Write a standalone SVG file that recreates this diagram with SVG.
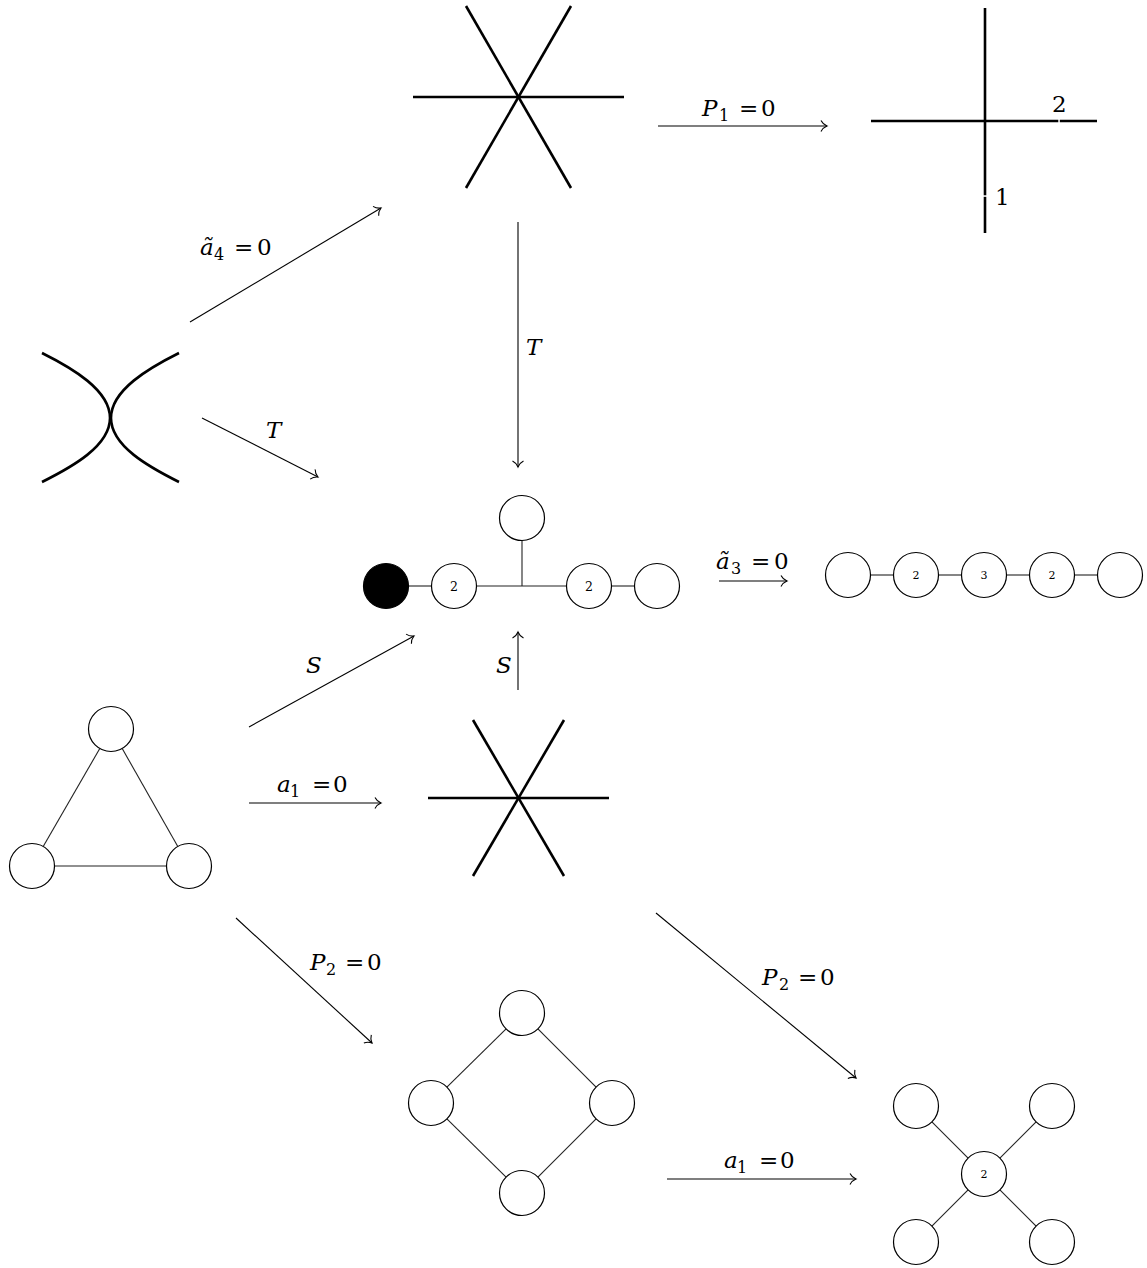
<svg xmlns="http://www.w3.org/2000/svg" width="1147" height="1268" viewBox="0 0 1147 1268">
<style>
  .thick { stroke:#000; stroke-width:2.6; fill:none; stroke-linecap:butt; }
  .node circle { fill:#fff; stroke:#000; stroke-width:1.2; }
  .edge { stroke:#222; stroke-width:1.1; fill:none; }
  .conn line { stroke:#000; stroke-width:1.1; fill:none; marker-end:url(#to); }
  text { font-family:"DejaVu Serif", serif; fill:#000; }
  .lab { font-size:23px; }
  .it { font-style:italic; }
  .sub { font-size:16px; }
  .num { font-size:11px; text-anchor:middle; dominant-baseline:central; }
  .numb { font-size:12.5px; }
</style>
<defs>
  <marker id="to" markerUnits="userSpaceOnUse" markerWidth="16" markerHeight="16" refX="0" refY="0" viewBox="-8 -8 16 16" orient="auto" overflow="visible">
    <path d="M-6,-5.5 C-4.5,-2.5 -1.5,-0.6 0,0 C-1.5,0.6 -4.5,2.5 -6,5.5" fill="none" stroke="#000" stroke-width="1.1"/>
  </marker>
</defs>

<g id="star-top">
  <line class="thick" x1="413" y1="97" x2="624" y2="97"/>
  <line class="thick" x1="466" y1="6" x2="571" y2="188"/>
  <line class="thick" x1="571" y1="6" x2="466" y2="188"/>
</g>

<g id="cross">
  <line class="thick" x1="871" y1="121" x2="1058.3" y2="121"/>
  <line class="thick" x1="1059.8" y1="121" x2="1097" y2="121"/>
  <line class="thick" x1="985" y1="8" x2="985" y2="195.3"/>
  <line class="thick" x1="985" y1="196.8" x2="985" y2="233"/>
  <text class="lab" x="1052" y="112">2</text>
  <text class="lab" x="995" y="205">1</text>
</g>

<g id="curves">
  <path class="thick" d="M42,353 C72,368 110,390 110,418 C110,446 72,467 42,482"/>
  <path class="thick" d="M179,353 C149,368 111,390 111,418 C111,446 149,467 179,482"/>
</g>

<g id="dynkin-mid" class="node">
  <line class="edge" x1="408" y1="586" x2="432" y2="586"/>
  <line class="edge" x1="476" y1="586" x2="567" y2="586"/>
  <line class="edge" x1="522" y1="540.5" x2="522" y2="586"/>
  <line class="edge" x1="611" y1="586" x2="635" y2="586"/>
  <circle cx="386" cy="586" r="22.5" style="fill:#000"/>
  <circle cx="454" cy="586" r="22.5"/>
  <circle cx="522" cy="518" r="22.5"/>
  <circle cx="589" cy="586" r="22.5"/>
  <circle cx="657" cy="586" r="22.5"/>
  <text class="num numb" x="454" y="586">2</text>
  <text class="num numb" x="589" y="586">2</text>
</g>

<g id="chain" class="node">
  <line class="edge" x1="870" y1="575" x2="894" y2="575"/>
  <line class="edge" x1="938" y1="575" x2="962" y2="575"/>
  <line class="edge" x1="1006" y1="575" x2="1030" y2="575"/>
  <line class="edge" x1="1074" y1="575" x2="1098" y2="575"/>
  <circle cx="848" cy="575" r="22.5"/>
  <circle cx="916" cy="575" r="22.5"/>
  <circle cx="984" cy="575" r="22.5"/>
  <circle cx="1052" cy="575" r="22.5"/>
  <circle cx="1120" cy="575" r="22.5"/>
  <text class="num" x="916" y="575">2</text>
  <text class="num" x="984" y="575">3</text>
  <text class="num" x="1052" y="575">2</text>
</g>

<g id="triangle" class="node">
  <line class="edge" x1="99.8" y1="748.5" x2="43.2" y2="846.5"/>
  <line class="edge" x1="122.2" y1="748.5" x2="177.8" y2="846.5"/>
  <line class="edge" x1="54.5" y1="866" x2="166.5" y2="866"/>
  <circle cx="111" cy="729" r="22.5"/>
  <circle cx="32" cy="866" r="22.5"/>
  <circle cx="189" cy="866" r="22.5"/>
</g>

<g id="star-mid">
  <line class="thick" x1="428" y1="798" x2="609" y2="798"/>
  <line class="thick" x1="473" y1="720" x2="564" y2="876"/>
  <line class="thick" x1="564" y1="720" x2="473" y2="876"/>
</g>

<g id="diamond" class="node">
  <line class="edge" x1="506.1" y1="1028.9" x2="446.9" y2="1087.1"/>
  <line class="edge" x1="537.9" y1="1028.9" x2="596.1" y2="1087.1"/>
  <line class="edge" x1="446.9" y1="1118.9" x2="506.1" y2="1177.1"/>
  <line class="edge" x1="596.1" y1="1118.9" x2="537.9" y2="1177.1"/>
  <circle cx="522" cy="1013" r="22.5"/>
  <circle cx="431" cy="1103" r="22.5"/>
  <circle cx="612" cy="1103" r="22.5"/>
  <circle cx="522" cy="1193" r="22.5"/>
</g>

<g id="xshape" class="node">
  <line class="edge" x1="968.1" y1="1158.1" x2="931.9" y2="1121.9"/>
  <line class="edge" x1="999.9" y1="1158.1" x2="1036.1" y2="1121.9"/>
  <line class="edge" x1="968.1" y1="1189.9" x2="931.9" y2="1226.1"/>
  <line class="edge" x1="999.9" y1="1189.9" x2="1036.1" y2="1226.1"/>
  <circle cx="984" cy="1174" r="22.5"/>
  <circle cx="916" cy="1106" r="22.5"/>
  <circle cx="1052" cy="1106" r="22.5"/>
  <circle cx="916" cy="1242" r="22.5"/>
  <circle cx="1052" cy="1242" r="22.5"/>
  <text class="num" x="984" y="1174">2</text>
</g>

<g id="connectors" class="conn">
  <line x1="190" y1="322" x2="381" y2="208"/>
  <line x1="202" y1="418" x2="318" y2="477"/>
  <line x1="518" y1="222" x2="518" y2="467"/>
  <line x1="658" y1="126" x2="827" y2="126"/>
  <line x1="719" y1="581" x2="787" y2="581"/>
  <line x1="249" y1="727" x2="414" y2="636"/>
  <line x1="518" y1="690" x2="518" y2="632"/>
  <line x1="249" y1="803" x2="381" y2="803"/>
  <line x1="236" y1="918" x2="372" y2="1043"/>
  <line x1="656" y1="913" x2="856" y2="1078"/>
  <line x1="667" y1="1179" x2="856" y2="1179"/>
</g>

<g id="labels">
  <text class="lab"><tspan class="it" x="702" y="116">P</tspan><tspan class="sub" x="719" y="121">1</tspan><tspan x="739" y="116">=</tspan><tspan x="761" y="116">0</tspan></text>
  <text class="lab"><tspan class="it" x="200" y="255">ã</tspan><tspan class="sub" x="214" y="260">4</tspan><tspan x="234" y="255">=</tspan><tspan x="257" y="255">0</tspan></text>
  <text class="lab it" x="266" y="438">T</text>
  <text class="lab it" x="526" y="355">T</text>
  <text class="lab"><tspan class="it" x="716" y="569">ã</tspan><tspan class="sub" x="731" y="574">3</tspan><tspan x="751" y="569">=</tspan><tspan x="774" y="569">0</tspan></text>
  <text class="lab it" x="306" y="673">S</text>
  <text class="lab it" x="496" y="673">S</text>
  <text class="lab"><tspan class="it" x="277" y="792">a</tspan><tspan class="sub" x="290" y="797">1</tspan><tspan x="312" y="792">=</tspan><tspan x="333" y="792">0</tspan></text>
  <text class="lab"><tspan class="it" x="310" y="970">P</tspan><tspan class="sub" x="326" y="975">2</tspan><tspan x="345" y="970">=</tspan><tspan x="367" y="970">0</tspan></text>
  <text class="lab"><tspan class="it" x="762" y="985">P</tspan><tspan class="sub" x="779" y="990">2</tspan><tspan x="798" y="985">=</tspan><tspan x="820" y="985">0</tspan></text>
  <text class="lab"><tspan class="it" x="724" y="1168">a</tspan><tspan class="sub" x="737" y="1173">1</tspan><tspan x="759" y="1168">=</tspan><tspan x="780" y="1168">0</tspan></text>
</g>
</svg>
